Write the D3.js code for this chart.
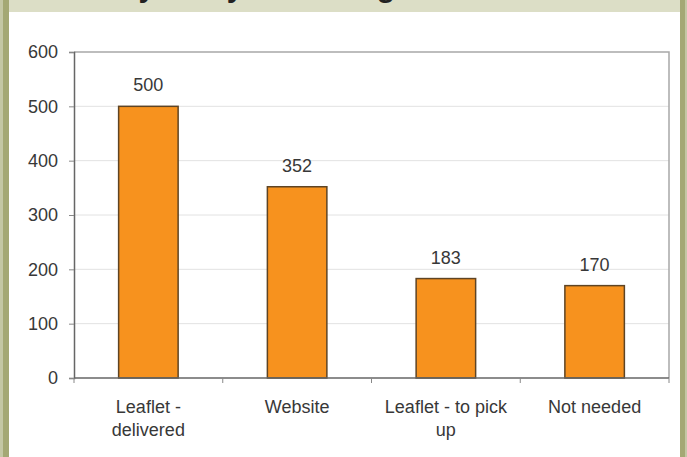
<!DOCTYPE html>
<html>
<head>
<meta charset="utf-8">
<script src="https://cdn.jsdelivr.net/npm/d3@7"></script>
<style>
  html, body { margin: 0; padding: 0; background: #ffffff; }
  svg { display: block; }
  text { font-family: "Liberation Sans", Arial, sans-serif; }
</style>
</head>
<body>
<svg id="chart" width="687" height="457"></svg>
<script>
// Survey responses by source
const categories = [["Leaflet -", "delivered"], ["Website"], ["Leaflet - to pick", "up"], ["Not needed"]];
const values = [500, 352, 183, 170];
const yTicks = [0, 100, 200, 300, 400, 500, 600];
const titleText = "Survey: did you find a guide?";

const W = 687, H = 457;
const FONT = 18;
const svg = d3.select("#chart");

// Frame: beige heading band and olive side borders
svg.append("rect").attr("x", 0).attr("y", 0).attr("width", W).attr("height", H).attr("fill", "#ffffff");
svg.append("rect").attr("x", 0).attr("y", 0).attr("width", W).attr("height", 12).attr("fill", "#dcdec6");
// Heading sits mostly above the top edge; only its descenders reach the band
svg.append("text")
  .attr("x", 55).attr("y", -3)
  .attr("font-size", 30).attr("font-weight", "bold").attr("fill", "#222")
  .text(titleText);
svg.append("rect").attr("x", 0).attr("y", 0).attr("width", 3).attr("height", H).attr("fill", "#c4c7a4");
svg.append("rect").attr("x", 3).attr("y", 0).attr("width", 6).attr("height", H).attr("fill", "#a4a874");
svg.append("rect").attr("x", 680).attr("y", 0).attr("width", 5).attr("height", H).attr("fill", "#a4a874");
svg.append("rect").attr("x", 685).attr("y", 0).attr("width", 2).attr("height", H).attr("fill", "#c4c7a4");

const plot = { left: 74, right: 669, top: 52, bottom: 378 };

const x = d3.scaleBand()
  .domain(d3.range(values.length))
  .range([plot.left, plot.right])
  .paddingInner(0.6)
  .paddingOuter(0.3);

const y = d3.scaleLinear().domain([0, 600]).range([plot.bottom, plot.top]);

// Horizontal gridlines
svg.append("g")
  .selectAll("line")
  .data(yTicks.filter(d => d > 0 && d < 600))
  .join("line")
  .attr("x1", plot.left).attr("x2", plot.right)
  .attr("y1", d => y(d)).attr("y2", d => y(d))
  .attr("stroke", "#e2e2e2").attr("stroke-width", 1);

// Plot area border (top and right)
svg.append("path")
  .attr("d", `M${plot.left},${y(600)}H${plot.right}V${plot.bottom}`)
  .attr("fill", "none").attr("stroke", "#a8a8a8").attr("stroke-width", 1.5);

// Bars
svg.append("g")
  .selectAll("rect")
  .data(values)
  .join("rect")
  .attr("x", (d, i) => x(i))
  .attr("y", d => y(d))
  .attr("width", x.bandwidth())
  .attr("height", d => y(0) - y(d))
  .attr("fill", "#f7921e")
  .attr("stroke", "#5e4424")
  .attr("stroke-width", 1.5);

// Value labels
svg.append("g")
  .selectAll("text")
  .data(values)
  .join("text")
  .attr("x", (d, i) => x(i) + x.bandwidth() / 2)
  .attr("y", d => y(d) - 15)
  .attr("text-anchor", "middle")
  .attr("font-size", FONT).attr("fill", "#383838")
  .text(d => d);

// Y axis
const yAxis = svg.append("g")
  .attr("transform", `translate(${plot.left},0)`)
  .call(d3.axisLeft(y).tickValues(yTicks).tickSize(5).tickPadding(11).tickFormat(d3.format("d")));
yAxis.select(".domain").attr("stroke", "#666").attr("stroke-width", 1.5);
yAxis.selectAll(".tick line").attr("stroke", "#888");
yAxis.selectAll(".tick text").attr("font-size", FONT).attr("fill", "#383838")
  .attr("font-family", "Liberation Sans, Arial, sans-serif");

// X axis line with ticks at category boundaries
const step = x.step();
const boundaries = d3.range(values.length + 1).map(i => plot.left + i * step);
svg.append("line")
  .attr("x1", plot.left).attr("x2", plot.right)
  .attr("y1", plot.bottom).attr("y2", plot.bottom)
  .attr("stroke", "#666").attr("stroke-width", 1.5);
svg.append("g")
  .selectAll("line")
  .data(boundaries)
  .join("line")
  .attr("x1", d => d).attr("x2", d => d)
  .attr("y1", plot.bottom).attr("y2", plot.bottom + 5)
  .attr("stroke", "#888");

// Category labels
const labels = svg.append("g")
  .selectAll("text")
  .data(categories)
  .join("text")
  .attr("x", (d, i) => x(i) + x.bandwidth() / 2)
  .attr("y", 413)
  .attr("text-anchor", "middle")
  .attr("font-size", FONT).attr("fill", "#383838");
labels.selectAll("tspan")
  .data(d => d)
  .join("tspan")
  .attr("x", function () { return d3.select(this.parentNode).attr("x"); })
  .attr("dy", (d, i) => i === 0 ? 0 : 23)
  .text(d => d);
</script>
</body>
</html>
